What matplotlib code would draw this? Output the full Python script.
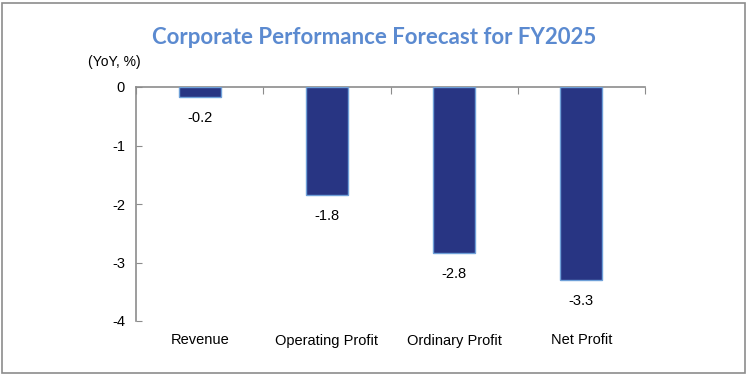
import matplotlib
matplotlib.use("Agg")
import matplotlib.pyplot as plt
from matplotlib.patches import Rectangle

categories = ["Revenue", "Operating Profit", "Ordinary Profit", "Net Profit"]
values = [-0.17, -1.84, -2.84, -3.30]
yticks = [0, -1, -2, -3, -4]

fig = plt.figure(figsize=(7.5, 3.74), dpi=100)
fig.patch.set_facecolor("white")
fig.add_artist(Rectangle((0.003, 0.003), 0.99, 0.99, transform=fig.transFigure,
                         fill=False, edgecolor="#8c8c8c", linewidth=1.2))

ax = fig.add_axes([136/750, 1 - 321/374, (645-136)/750, (321-87)/374])
x = list(range(len(categories)))
ax.bar(x, values, width=0.33, color="#283583", edgecolor="#6fa0d8", linewidth=1.0, zorder=3)
ax.set_xlim(-0.5, len(categories) - 0.5)
ax.set_ylim(-4, 0)
ax.set_yticks(yticks)
ax.set_yticklabels([str(t) for t in yticks], fontsize=10.5, family="Liberation Sans")

for s in ["right", "bottom"]:
    ax.spines[s].set_visible(False)
for s in ["left", "top"]:
    ax.spines[s].set_color("#8c8c8c")
    ax.spines[s].set_linewidth(1.2)

ax.tick_params(axis="y", direction="in", length=4, color="#8c8c8c", pad=8)
ax.xaxis.set_ticks_position("top")
ax.set_xticks([i - 0.5 for i in range(len(categories) + 1)])
ax.tick_params(axis="x", direction="in", length=5, color="#8c8c8c", labeltop=False, labelbottom=False)

for i, c in enumerate(categories):
    ax.annotate(c, (i, -4), xytext=(0, -9), textcoords="offset points",
                ha="center", va="top", fontsize=10.5, family="Liberation Sans", annotation_clip=False)
    ax.annotate(f"{values[i]:.1f}", (i, values[i]), xytext=(0, -10), textcoords="offset points",
                ha="center", va="top", fontsize=10.5, family="Liberation Sans")

fig.text(0.499, 1 - 37/374, "Corporate Performance Forecast for FY2025", ha="center", va="center",
         fontsize=16, fontweight="bold", family="Lato", color="#5b8ad0")
fig.text(88/750, 1 - 62/374, "(YoY, %)", ha="left", va="center", fontsize=10, family="Liberation Sans")

fig.savefig("out.png", dpi=100, facecolor="white")
